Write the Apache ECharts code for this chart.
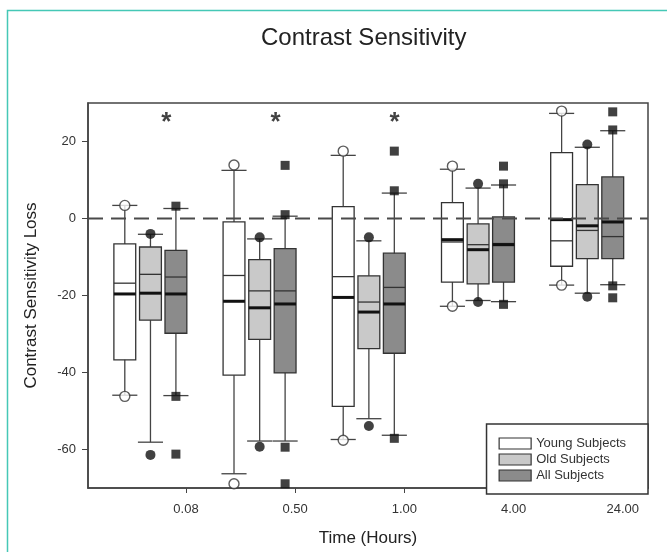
<!DOCTYPE html>
<html>
<head>
<meta charset="utf-8">
<script src="https://cdn.jsdelivr.net/npm/echarts@6/dist/echarts.min.js"></script>
<style>
  html, body { margin: 0; padding: 0; background: #fff; }
  #main { width: 667px; height: 552px; }
</style>
</head>
<body>
<div id="main"></div>
<script>
// time points on the x axis
var times = ['0.08', '0.50', '1.00', '4.00', '24.00'];

// one row per time: [lower whisker, Q1, median, mean, Q3, upper whisker]
var young = [
  [-45.9, -36.7, -16.8, -19.6, -6.6, 3.4],
  [-66.3, -40.7, -14.8, -21.5, -0.9, 12.5],
  [-57.4, -48.8, -15.1, -20.5, 3.1, 16.4],
  [-22.8, -16.5, -6.1, -5.5, 4.1, 12.8],
  [-17.3, -12.4, -5.8, -0.3, 17.1, 27.3]
];
var old = [
  [-58.1, -26.4, -14.5, -19.4, -7.4, -4.1],
  [-57.8, -31.4, -18.8, -23.2, -10.7, -5.3],
  [-52.0, -33.8, -21.7, -24.3, -14.9, -5.8],
  [-21.3, -17.0, -6.8, -8.1, -1.4, 7.9],
  [-19.4, -10.4, -3.1, -1.9, 8.8, 18.5]
];
var all = [
  [-46.0, -29.8, -15.2, -19.6, -8.3, 2.6],
  [-57.8, -40.1, -18.8, -22.2, -7.8, 0.6],
  [-56.3, -35.0, -17.9, -22.2, -9.0, 6.6],
  [-21.6, -16.5, -6.5, -6.8, 0.4, 8.7],
  [-17.2, -10.4, -4.7, -0.9, 10.8, 22.8]
];

// outlying points per time
var youngPts = [[-46.2, 3.4], [-68.9, 13.9], [-57.6, 17.5], [-22.8, 13.6], [-17.3, 27.9]];
var oldPts = [[-61.4, -4.0], [-59.3, -4.9], [-53.9, -4.9], [-21.7, 9.0], [-20.3, 19.2]];
var allPts = [[-61.2, -46.2, 3.2], [-68.9, -59.4, 1.0, 13.8], [-57.1, 7.2, 17.5], [-22.3, 9.0, 13.6], [-20.6, -17.5, 23.0, 27.7]];

// significance marks per time
var stars = ['*', '*', '*', '', ''];
var starLevel = 26.2;

// layout
var xMin = -0.897, xMax = 4.231;
var starShift = [-0.18, -0.18, -0.09, 0, 0];
var FONT = 'Liberation Sans, Arial, sans-serif';

var groups = [
  { name: 'Young Subjects', rows: young, pts: youngPts, shift: -0.56, fill: '#ffffff', symbol: 'circle', size: 10, ptStyle: { color: '#fff', borderColor: '#333', borderWidth: 1.4 } },
  { name: 'Old Subjects', rows: old, pts: oldPts, shift: -0.325, fill: '#c9c9c9', symbol: 'circle', size: 10, ptStyle: { color: '#111' } },
  { name: 'All Subjects', rows: all, pts: allPts, shift: -0.092, fill: '#8b8b8b', symbol: 'rect', size: 9, ptStyle: { color: '#111' } }
];

function boxItem(shift) {
  return function (params, api) {
    var t = api.value(0) + shift;
    var unit = api.size([1, 0])[0];
    var bw = unit * 0.2, cw = unit * 0.23;
    var lo = api.coord([t, api.value(1)]);
    var q1 = api.coord([t, api.value(2)]);
    var md = api.coord([t, api.value(3)]);
    var mn = api.coord([t, api.value(4)]);
    var q3 = api.coord([t, api.value(5)]);
    var hi = api.coord([t, api.value(6)]);
    var x = lo[0];
    function seg(x1, y1, x2, y2, w, c) {
      return { type: 'line', shape: { x1: x1, y1: y1, x2: x2, y2: y2 }, style: { stroke: c, lineWidth: w } };
    }
    return {
      type: 'group',
      children: [
        seg(x, hi[1], x, lo[1], 1.3, '#444'),
        seg(x - cw / 2, hi[1], x + cw / 2, hi[1], 1.3, '#444'),
        seg(x - cw / 2, lo[1], x + cw / 2, lo[1], 1.3, '#444'),
        { type: 'rect', shape: { x: x - bw / 2, y: q3[1], width: bw, height: q1[1] - q3[1] },
          style: { fill: api.visual('color'), stroke: '#333', lineWidth: 1.3 } },
        seg(x - bw / 2, md[1], x + bw / 2, md[1], 1.3, '#333'),
        seg(x - bw / 2, mn[1], x + bw / 2, mn[1], 3, '#111')
      ]
    };
  };
}

var series = [];
groups.forEach(function (g) {
  series.push({
    name: g.name,
    type: 'custom',
    renderItem: boxItem(g.shift),
    itemStyle: { color: g.fill },
    encode: { x: 0, y: [1, 2, 3, 4, 5, 6] },
    data: g.rows.map(function (r, i) { return [i].concat(r); }),
    z: 2
  });
  var pts = [];
  g.pts.forEach(function (list, i) {
    list.forEach(function (v) { pts.push([i + g.shift, v]); });
  });
  series.push({
    name: g.name,
    type: 'scatter',
    symbol: g.symbol,
    symbolSize: g.size,
    itemStyle: g.ptStyle,
    data: pts,
    z: 4
  });
});

series.push({
  type: 'line',
  silent: true,
  symbol: 'none',
  data: [[xMin, 0], [xMax, 0]],
  lineStyle: { color: '#4a4a4a', width: 2, type: [15, 8] },
  z: 3
});

series.push({
  type: 'scatter',
  silent: true,
  symbolSize: 0,
  data: stars.map(function (s, i) { return s ? [i + starShift[i], starLevel, s] : null; }).filter(Boolean),
  label: {
    show: true, position: 'inside', formatter: function (p) { return p.value[2]; },
    fontSize: 26, fontWeight: 'bold', color: '#111', fontFamily: FONT, offset: [0, 5]
  },
  z: 5
});

var chart = echarts.init(document.getElementById('main'), null, { renderer: 'canvas' });
chart.setOption({
  animation: false,
  backgroundColor: '#fff',
  title: {
    text: 'Contrast Sensitivity',
    left: 256, top: 21,
    textStyle: { fontFamily: FONT, fontSize: 24, fontWeight: 'normal', color: '#222' }
  },
  graphic: [{
    type: 'rect', silent: true, z: -1,
    shape: { x: 7.5, y: 10.5, width: 700, height: 600 },
    style: { fill: 'none', stroke: '#45c8b6', lineWidth: 1.5 }
  }],
  legend: {
    orient: 'vertical',
    right: 19, bottom: 58,
    padding: [13, 22, 12, 12],
    itemWidth: 32, itemHeight: 11, itemGap: 3,
    backgroundColor: '#fff',
    borderColor: '#333', borderWidth: 1.5, borderRadius: 0,
    textStyle: { fontFamily: FONT, fontSize: 13, color: '#333' },
    data: groups.map(function (g) {
      return { name: g.name, icon: 'rect', itemStyle: { color: g.fill, borderColor: '#333', borderWidth: 1.2 } };
    }),
    selectedMode: false,
    z: 10
  },
  grid: {
    left: 88, right: 19, top: 103, bottom: 58,
    show: true, borderColor: '#444', borderWidth: 1.5, backgroundColor: 'transparent'
  },
  xAxis: {
    type: 'value', min: xMin, max: xMax,
    name: 'Time (Hours)', nameLocation: 'middle', nameGap: 42,
    nameTextStyle: { fontFamily: FONT, fontSize: 17, color: '#222' },
    axisLine: { onZero: false, lineStyle: { color: '#444', width: 1.5 } },
    axisTick: { customValues: [0, 1, 2, 3, 4], length: 5, lineStyle: { color: '#444' } },
    axisLabel: {
      customValues: [0, 1, 2, 3, 4], margin: 15,
      formatter: function (v) { return times[Math.round(v)]; },
      fontFamily: FONT, fontSize: 13, color: '#333'
    },
    splitLine: { show: false }
  },
  yAxis: {
    type: 'value', min: -70, max: 30,
    name: 'Contrast Sensitivity Loss', nameLocation: 'middle', nameGap: 48,
    nameTextStyle: { fontFamily: FONT, fontSize: 17, color: '#222' },
    axisLine: { show: true, onZero: false, lineStyle: { color: '#444', width: 1.5 } },
    axisTick: { show: true, customValues: [-60, -40, -20, 0, 20], length: 6, lineStyle: { color: '#444' } },
    axisLabel: {
      customValues: [-60, -40, -20, 0, 20], margin: 12,
      fontFamily: FONT, fontSize: 13, color: '#333'
    },
    splitLine: { show: false }
  },
  series: series
});
</script>
</body>
</html>
